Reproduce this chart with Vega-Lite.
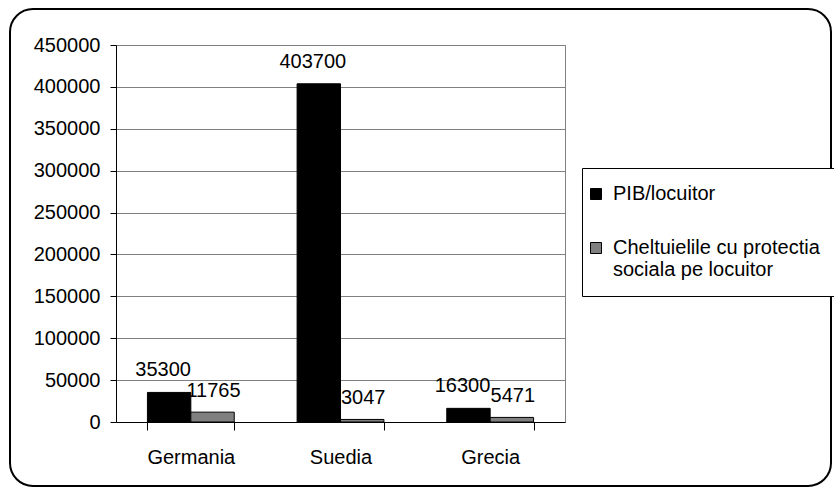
{
  "$schema": "https://vega.github.io/schema/vega-lite/v6.json",
  "width": 449,
  "height": 377,
  "autosize": {"type": "none"},
  "padding": {"left": 116, "top": 45, "right": 269, "bottom": 65},
  "background": "white",
  "config": {
    "font": "Liberation Sans",
    "view": {"stroke": "#808080", "strokeWidth": 1},
    "axis": {
      "labelFont": "Liberation Sans",
      "labelFontSize": 20,
      "labelColor": "black",
      "domainColor": "black",
      "domainWidth": 1,
      "tickColor": "black",
      "tickWidth": 1,
      "tickSize": 6
    }
  },
  "datasets": {
    "gdp": [
      {"country": "Germania", "series": "PIB/locuitor", "value": 35300},
      {"country": "Germania", "series": "Cheltuielile cu protectia sociala pe locuitor", "value": 11765},
      {"country": "Suedia", "series": "PIB/locuitor", "value": 403700},
      {"country": "Suedia", "series": "Cheltuielile cu protectia sociala pe locuitor", "value": 3047},
      {"country": "Grecia", "series": "PIB/locuitor", "value": 16300},
      {"country": "Grecia", "series": "Cheltuielile cu protectia sociala pe locuitor", "value": 5471}
    ],
    "frame": [{"name": "chart border"}]
  },
  "layer": [
    {
      "data": {"name": "frame"},
      "mark": {
        "type": "rect",
        "fillOpacity": 0,
        "stroke": "black",
        "strokeWidth": 2,
        "cornerRadius": 23,
        "xOffset": -106,
        "x2Offset": 266,
        "yOffset": -36,
        "y2Offset": 64
      },
      "encoding": {
        "x": {"value": 0},
        "x2": {"value": "width"},
        "y": {"value": 0},
        "y2": {"value": "height"}
      }
    },
    {
      "data": {"name": "gdp"},
      "mark": {"type": "bar", "stroke": "black", "strokeWidth": 1},
      "encoding": {
        "x": {
          "field": "country",
          "type": "nominal",
          "sort": ["Germania", "Suedia", "Grecia"],
          "scale": {"paddingInner": 0.42, "paddingOuter": 0.21},
          "axis": {"title": null, "labelAngle": 0, "tickBand": "extent", "tickSize": 8, "labelPadding": 17, "grid": false}
        },
        "xOffset": {
          "field": "series",
          "type": "nominal",
          "scale": {"domain": ["PIB/locuitor", "Cheltuielile cu protectia sociala pe locuitor"], "paddingInner": 0, "paddingOuter": 0}
        },
        "y": {
          "field": "value",
          "type": "quantitative",
          "scale": {"domain": [0, 450000], "nice": false},
          "axis": {
            "title": null,
            "values": [0, 50000, 100000, 150000, 200000, 250000, 300000, 350000, 400000, 450000],
            "format": "d",
            "labelPadding": 10,
            "grid": true,
            "gridColor": "#808080",
            "gridWidth": 1
          }
        },
        "color": {
          "field": "series",
          "type": "nominal",
          "scale": {"domain": ["PIB/locuitor", "Cheltuielile cu protectia sociala pe locuitor"], "range": ["#000000", "#808080"]},
          "legend": {
            "title": null,
            "orient": "none",
            "legendX": 466,
            "legendY": 123,
            "direction": "vertical",
            "strokeColor": "black",
            "fillColor": "white",
            "padding": 16,
            "rowPadding": 34,
            "symbolType": "square",
            "symbolSize": 121,
            "symbolStrokeColor": "black",
            "symbolStrokeWidth": 1,
            "symbolOffset": -12,
            "labelFont": "Liberation Sans",
            "labelFontSize": 20,
            "labelColor": "black",
            "labelLimit": 400,
            "labelOffset": 7,
            "labelExpr": "datum.label == 'Cheltuielile cu protectia sociala pe locuitor' ? ['Cheltuielile cu protectia', 'sociala pe locuitor'] : datum.label"
          }
        }
      }
    },
    {
      "data": {"name": "gdp"},
      "transform": [{"filter": "datum.series == 'PIB/locuitor'"}],
      "mark": {"type": "text", "baseline": "alphabetic", "dy": -16, "dx": -6, "fontSize": 20, "color": "black"},
      "encoding": {
        "x": {"field": "country", "type": "nominal", "sort": ["Germania", "Suedia", "Grecia"]},
        "xOffset": {"field": "series", "type": "nominal"},
        "y": {"field": "value", "type": "quantitative"},
        "text": {"field": "value", "type": "quantitative", "format": "d"}
      }
    },
    {
      "data": {"name": "gdp"},
      "transform": [{"filter": "datum.series != 'PIB/locuitor'"}],
      "mark": {"type": "text", "baseline": "alphabetic", "dy": -15, "dx": 1, "fontSize": 20, "color": "black"},
      "encoding": {
        "x": {"field": "country", "type": "nominal", "sort": ["Germania", "Suedia", "Grecia"]},
        "xOffset": {"field": "series", "type": "nominal"},
        "y": {"field": "value", "type": "quantitative"},
        "text": {"field": "value", "type": "quantitative", "format": "d"}
      }
    }
  ]
}
